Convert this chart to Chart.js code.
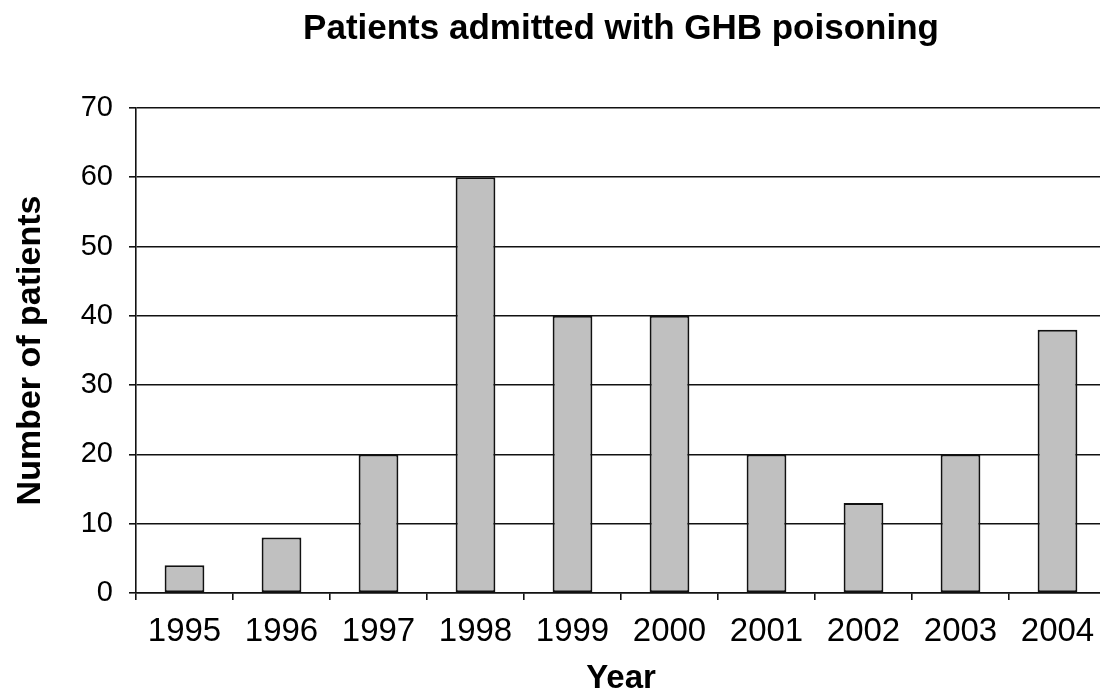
<!DOCTYPE html>
<html>
<head>
<meta charset="utf-8">
<script src="https://cdn.jsdelivr.net/npm/chart.js@4"></script>
<style>
  html, body { margin: 0; padding: 0; background: #fff; overflow: hidden; }
  #wrap { width: 1110px; height: 695px; }
</style>
</head>
<body>
<div id="wrap"><canvas id="c" width="1110" height="695"></canvas></div>
<script>
const years = ['1995', '1996', '1997', '1998', '1999', '2000', '2001', '2002', '2003', '2004'];
const patients = [4, 8, 20, 60, 40, 40, 20, 13, 20, 38];
const chartTitle = 'Patients admitted with GHB poisoning';
const xTitle = 'Year';
const yTitle = 'Number of patients';

const FONT = '"Liberation Sans", Arial, Helvetica, sans-serif';

new Chart(document.getElementById('c'), {
  type: 'bar',
  data: {
    labels: years,
    datasets: [{
      data: patients,
      backgroundColor: '#c0c0c0',
      borderColor: '#111',
      borderWidth: 2,
      borderSkipped: false,
      categoryPercentage: 1,
      barPercentage: 0.41
    }]
  },
  options: {
    responsive: false,
    animation: false,
    layout: { padding: { left: 0, right: 4, top: 0, bottom: 0 } },
    plugins: {
      legend: { display: false },
      tooltip: { enabled: false },
      title: {
        display: true,
        text: chartTitle,
        fullSize: false,
        color: '#000',
        font: { family: FONT, size: 35, weight: 'bold' },
        padding: { top: 8, bottom: 58 }
      }
    },
    scales: {
      x: {
        afterFit: s => { s.height = 102; },
        grid: {
          display: true,
          offset: true,
          drawOnChartArea: false,
          drawTicks: true,
          tickLength: 7,
          color: '#111',
          lineWidth: 1.6
        },
        border: { display: true, color: '#111', width: 1.6 },
        ticks: {
          color: '#000',
          font: { family: FONT, size: 33 },
          padding: 12,
          maxRotation: 0,
          autoSkip: false
        },
        title: {
          display: true,
          text: xTitle,
          color: '#000',
          font: { family: FONT, size: 33, weight: 'bold', lineHeight: 1.0 },
          padding: { top: 0, bottom: 0 }
        }
      },
      y: {
        min: 0,
        max: 70,
        afterFit: s => { s.width = 136; },
        grid: {
          color: '#111',
          lineWidth: 1.6,
          drawTicks: true,
          tickLength: 7
        },
        border: { display: true, color: '#111', width: 1.6 },
        ticks: {
          stepSize: 10,
          color: '#000',
          font: { family: FONT, size: 29 },
          padding: 16
        },
        title: {
          display: true,
          text: yTitle,
          color: '#000',
          font: { family: FONT, size: 34, weight: 'bold' },
          padding: { top: 10, bottom: 0 }
        }
      }
    }
  }
});
</script>
</body>
</html>
